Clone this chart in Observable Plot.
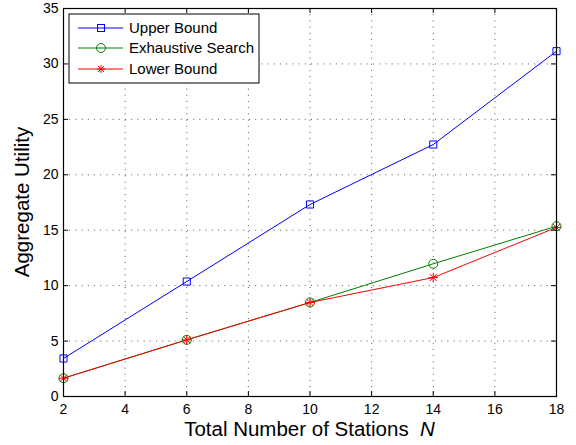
<!DOCTYPE html>
<html>
<head>
<meta charset="utf-8">
<script src="https://cdn.jsdelivr.net/npm/d3@7"></script>
<script src="https://cdn.jsdelivr.net/npm/@observablehq/plot@0.6"></script>
<style>
  html, body { margin: 0; padding: 0; background: white; }
  #chart { width: 576px; height: 445px; }
</style>
</head>
<body>
<div id="chart"></div>
<script>
const stations = [2, 6, 10, 14, 18];
const upperBound = [3.43, 10.37, 17.32, 22.73, 31.15];
const exhaustiveSearch = [1.65, 5.11, 8.48, 11.97, 15.36];
const lowerBound = [1.65, 5.11, 8.48, 10.73, 15.25];
const xTicks = [2, 4, 6, 8, 10, 12, 14, 16, 18];
const yTicks = [0, 5, 10, 15, 20, 25, 30, 35];
const seriesNames = ["Upper Bound", "Exhaustive Search", "Lower Bound"];
const xLabel = "Total Number of Stations";
const xLabelVar = "N";
const yLabel = "Aggregate Utility";

const W = 576, H = 445, mL = 63, mR = 20, mT = 8, mB = 49;
const fw = W - mL - mR, fh = H - mT - mB;
const tickLen = 5;

const toRows = (vals) => stations.map((x, i) => ({x, y: vals[i]}));
const upRows = toRows(upperBound);
const exRows = toRows(exhaustiveSearch);
const loRows = toRows(lowerBound);

const BLUE = "#0000ff", GREEN = "#008000", RED = "#ff0000";

const plot = Plot.plot({
  width: W, height: H,
  marginLeft: mL, marginRight: mR, marginTop: mT, marginBottom: mB,
  style: {fontFamily: "'Liberation Sans', Arial, Helvetica, sans-serif", fontSize: "14px", color: "black", background: "white"},
  x: {domain: [2, 18]},
  y: {domain: [0, 35]},
  marks: [
    Plot.gridX(xTicks.slice(1, -1), {stroke: "black", strokeOpacity: 0.65, strokeDasharray: "1,5.2", strokeWidth: 1}),
    Plot.gridY(yTicks.slice(1, -1), {stroke: "black", strokeOpacity: 0.65, strokeDasharray: "1,5.2", strokeWidth: 1}),
    Plot.axisX(xTicks, {tickSize: 0, tickPadding: 8, fontSize: 14, label: null}),
    Plot.axisY(yTicks, {tickSize: 0, tickPadding: 5, fontSize: 14, label: null}),
    Plot.tickX(xTicks, {x: d => d, insetTop: fh - tickLen, stroke: "black"}),
    Plot.tickX(xTicks, {x: d => d, insetBottom: fh - tickLen, stroke: "black"}),
    Plot.tickY(yTicks, {y: d => d, insetRight: fw - tickLen, stroke: "black"}),
    Plot.tickY(yTicks, {y: d => d, insetLeft: fw - tickLen, stroke: "black"}),
    Plot.line(upRows, {x: "x", y: "y", stroke: BLUE, strokeWidth: 1}),
    Plot.line(exRows, {x: "x", y: "y", stroke: GREEN, strokeWidth: 1}),
    Plot.line(loRows, {x: "x", y: "y", stroke: RED, strokeWidth: 1}),
    Plot.dot(upRows, {x: "x", y: "y", symbol: "square", r: 4, stroke: BLUE, strokeWidth: 1, fill: "none"}),
    Plot.dot(exRows, {x: "x", y: "y", symbol: "circle", r: 4.5, stroke: GREEN, strokeWidth: 1, fill: "none"}),
    Plot.dot(loRows, {x: "x", y: "y", symbol: "plus", r: 3.2, stroke: RED, strokeWidth: 1, fill: "none"}),
    Plot.dot(loRows, {x: "x", y: "y", symbol: "times", r: 3.2, stroke: RED, strokeWidth: 1, fill: "none"}),
    Plot.frame({stroke: "black", strokeWidth: 1.2})
  ]
});

document.getElementById("chart").appendChild(plot);

const svg = d3.select(plot);
const font = "'Liberation Sans', Arial, Helvetica, sans-serif";

// Axis labels
const xl = svg.append("text")
  .attr("x", mL + fw / 2).attr("y", H - 9)
  .attr("text-anchor", "middle")
  .attr("font-family", font).attr("font-size", 20.5).attr("fill", "black");
xl.append("tspan").text(xLabel + "\u00a0\u00a0");
xl.append("tspan").attr("font-style", "italic").text(xLabelVar);

svg.append("text")
  .attr("transform", `translate(29,${mT + fh / 2}) rotate(-90)`)
  .attr("text-anchor", "middle")
  .attr("font-family", font).attr("font-size", 20.5).attr("fill", "black")
  .text(yLabel);

// Legend
const lg = svg.append("g").attr("transform", "translate(69,14)");
lg.append("rect").attr("width", 190).attr("height", 69)
  .attr("fill", "white").attr("stroke", "black").attr("stroke-width", 1);
const colors = [BLUE, GREEN, RED];
const rowsY = [14, 34, 55];
seriesNames.forEach((name, i) => {
  const g = lg.append("g").attr("transform", `translate(0,${rowsY[i]})`);
  g.append("line").attr("x1", 9).attr("x2", 54).attr("y1", 0).attr("y2", 0)
    .attr("stroke", colors[i]).attr("stroke-width", 1);
  if (i === 0) {
    g.append("rect").attr("x", 32 - 3.5).attr("y", -3.5).attr("width", 7).attr("height", 7)
      .attr("fill", "none").attr("stroke", BLUE);
  } else if (i === 1) {
    g.append("circle").attr("cx", 32).attr("cy", 0).attr("r", 4.5)
      .attr("fill", "none").attr("stroke", GREEN);
  } else {
    g.append("path").attr("transform", "translate(32,0)")
      .attr("d", "M-4,0H4M0,-4V4M-3,-3L3,3M-3,3L3,-3")
      .attr("fill", "none").attr("stroke", RED);
  }
  g.append("text").attr("x", 60).attr("y", 0).attr("dy", "0.36em")
    .attr("text-anchor", "start")
    .attr("font-family", font).attr("font-size", 15).attr("fill", "black")
    .text(name);
});
</script>
</body>
</html>
